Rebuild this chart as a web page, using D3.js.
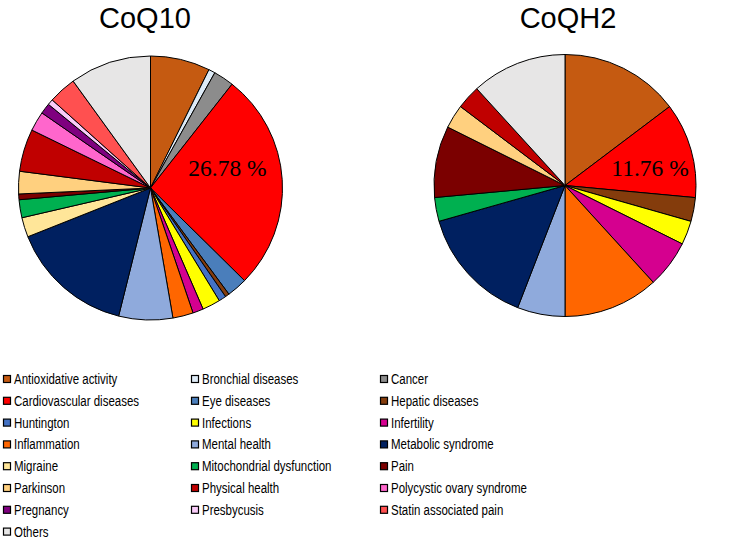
<!DOCTYPE html>
<html>
<head>
<meta charset="utf-8">
<script src="https://cdn.jsdelivr.net/npm/d3@7"></script>
<style>
  html, body { margin: 0; padding: 0; background: #fff; }
  svg { display: block; }
</style>
</head>
<body>
<svg id="chart" width="749" height="541"></svg>
<script>
// ---- data ----
const categories = [
  "Antioxidative activity", "Bronchial diseases", "Cancer",
  "Cardiovascular diseases", "Eye diseases", "Hepatic diseases",
  "Huntington", "Infections", "Infertility",
  "Inflammation", "Mental health", "Metabolic syndrome",
  "Migraine", "Mitochondrial dysfunction", "Pain",
  "Parkinson", "Physical health", "Polycystic ovary syndrome",
  "Pregnancy", "Presbycusis", "Statin associated pain",
  "Others"
];
const colors = [
  "#c55a11", "#deebf7", "#8c8c8c",
  "#ff0000", "#4a7ebb", "#843c0c",
  "#4472c4", "#ffff00", "#d5008f",
  "#ff6600", "#8faadc", "#002060",
  "#ffe699", "#00b050", "#7b0000",
  "#ffd07f", "#c00000", "#ff66cc",
  "#7f007f", "#f9ccf9", "#ff5050",
  "#e7e6e6"
];
// percent of studies (CoQ10)
const coq10Values = [
  7.3, 0.8, 2.5,
  26.78, 2.5, 0.5,
  0.9, 2.2, 1.3,
  2.5, 6.6, 15.1,
  2.4, 2.2, 0.7,
  2.75, 5.2, 2.4,
  1.3, 0.7, 3.4,
  9.97
];
// percent of studies (CoQH2)
const coqh2Values = [
  14.71, 0, 0,
  11.76, 0, 2.94,
  0, 2.94, 5.88,
  11.76, 5.88, 14.71,
  0, 2.94, 8.82,
  2.94, 2.94, 0,
  0, 0, 0,
  11.76
];
const titles = ["CoQ10", "CoQH2"];
const highlighted = "Cardiovascular diseases";

// ---- drawing ----
const svg = d3.select("#chart");
const color = d3.scaleOrdinal().domain(categories).range(colors);

const pies = [
  { title: titles[0], values: coq10Values, cx: 150.5, cy: 188, r: 132, lx: 77, ly: -12, tx: 145 },
  { title: titles[1], values: coqh2Values, cx: 565, cy: 185.5, r: 131, lx: 85, ly: -10, tx: 568 }
];

const pie = d3.pie().sort(null).value(d => d.v);

pies.forEach(p => {
  const data = categories.map((c, i) => ({ c, v: p.values[i] })).filter(d => d.v > 0);
  const arcs = pie(data);
  const arc = d3.arc().innerRadius(0).outerRadius(p.r);
  const g = svg.append("g").attr("transform", `translate(${p.cx},${p.cy})`);
  g.selectAll("path").data(arcs).join("path")
    .attr("d", arc)
    .attr("fill", d => color(d.data.c))
    .attr("stroke", "#000")
    .attr("stroke-width", 1)
    .attr("stroke-linejoin", "round");
  const hi = data.find(d => d.c === highlighted);
  g.append("text")
    .attr("x", p.lx).attr("y", p.ly)
    .attr("text-anchor", "middle")
    .attr("font-family", "'Liberation Serif', 'Times New Roman', serif")
    .attr("font-size", 23.5)
    .attr("fill", "#000")
    .text(hi.v.toFixed(2) + " %");
  svg.append("text")
    .attr("x", p.tx).attr("y", 28)
    .attr("text-anchor", "middle")
    .attr("font-family", "'Liberation Sans', Arial, sans-serif")
    .attr("font-size", 29)
    .attr("fill", "#000")
    .text(p.title);
});

// legend
const colX = [3, 191, 380];
const rowY0 = 379, rowH = 21.8;
const leg = svg.append("g");
categories.forEach((c, i) => {
  const col = i % 3, row = Math.floor(i / 3);
  const x = colX[col], y = rowY0 + row * rowH;
  leg.append("rect")
    .attr("x", x + 0.5).attr("y", y - 3.5)
    .attr("width", 7).attr("height", 7)
    .attr("fill", color(c))
    .attr("stroke", "#000").attr("stroke-width", 1.2);
  leg.append("text")
    .attr("transform", `translate(${x + 11},${y + 5}) scale(0.82,1)`)
    .attr("font-family", "'Liberation Sans', Arial, sans-serif")
    .attr("font-size", 14)
    .attr("fill", "#000")
    .text(c);
});
</script>
</body>
</html>
